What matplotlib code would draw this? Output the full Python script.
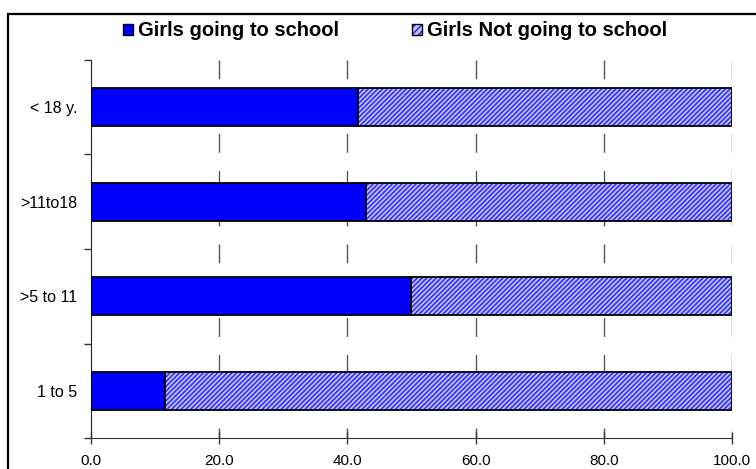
import matplotlib
matplotlib.use("Agg")
import matplotlib.pyplot as plt
from matplotlib.patches import Patch, Rectangle
from matplotlib.legend_handler import HandlerTuple

# Share of girls attending school, by age group (percent)
age_groups = ["1 to 5", ">5 to 11", ">11to18", "< 18 y."]
going = [11.6, 49.9, 42.9, 41.6]
not_going = [88.4, 50.1, 57.1, 58.4]
x_ticks = [0, 20, 40, 60, 80, 100]
series_names = ["Girls going to school", "Girls Not going to school"]

plt.rcParams["font.family"] = ["Liberation Sans", "DejaVu Sans"]
plt.rcParams["hatch.linewidth"] = 1.2

W, H, DPI = 756, 469, 100
fig = plt.figure(figsize=(W / DPI, H / DPI), dpi=DPI)
fig.patch.set_facecolor("white")

# plot area in pixel bounds
left, right, top, bottom = 91, 732, 60, 438
ax = fig.add_axes([left / W, 1 - bottom / H, (right - left) / W, (bottom - top) / H])

solid_blue = "#0000ff"
hatch_face = "#c4c4ff"
hatch_line = "#3030ff"
hatch_pattern = "///////"
bar_h = 0.4
ypos = list(range(len(age_groups)))

ax.barh(ypos, going, height=bar_h, color=solid_blue, edgecolor="black",
        linewidth=1.3, zorder=3)
# hatched fill (hatch colour follows edgecolor), then a black outline on top
ax.barh(ypos, not_going, left=going, height=bar_h, facecolor=hatch_face,
        edgecolor=hatch_line, hatch=hatch_pattern, linewidth=0, zorder=3)
ax.barh(ypos, not_going, left=going, height=bar_h, facecolor="none",
        edgecolor="black", linewidth=1.3, zorder=4)

ax.set_xlim(0, 100)
ax.set_ylim(-0.5, len(age_groups) - 0.5)

# dashed vertical gridlines, dashes starting from the top edge
for xv in x_ticks[1:]:
    ax.axvline(xv, ymin=1, ymax=0, color="#555555", linewidth=1.0,
               dashes=(13.5, 13.0), zorder=1)

ax.set_xticks(x_ticks)
ax.set_xticklabels([f"{v:.1f}" for v in x_ticks])
ax.set_yticks(ypos)
ax.set_yticklabels(age_groups)
ax.set_yticks([i - 0.5 for i in range(len(age_groups) + 1)], minor=True)

ax.tick_params(axis="x", direction="inout", length=9, width=1, color="#333333",
               labelsize=11, pad=7)
ax.tick_params(axis="y", which="major", length=0, labelsize=11.5, pad=10)
ax.tick_params(axis="y", which="minor", direction="out", length=5, width=1,
               color="#333333")

for side in ("top", "right"):
    ax.spines[side].set_visible(False)
ax.spines["left"].set_color("#222222")
ax.spines["bottom"].set_color("#333333")
ax.set_facecolor("white")

# legend
h_going = Patch(facecolor=solid_blue, edgecolor="black", linewidth=1.0)
h_hatch = Patch(facecolor=hatch_face, edgecolor=hatch_line, hatch="/////", linewidth=0)
h_outline = Patch(facecolor="none", edgecolor="black", linewidth=1.0)
fig.legend([h_going, (h_hatch, h_outline)], series_names,
           handler_map={tuple: HandlerTuple(ndivide=1, pad=0)},
           loc="center", bbox_to_anchor=(395 / W, 1 - 31 / H), ncol=2,
           frameon=False, prop={"weight": "bold", "size": 14.5},
           handlelength=0.5, handleheight=0.5, handletextpad=0.25,
           columnspacing=3.6, borderaxespad=0)

# outer chart frame
fig.patches.append(Rectangle((8 / W, -0.05), 1.2, 1 - 14 / H + 0.05,
                             transform=fig.transFigure, fill=False,
                             edgecolor="black", linewidth=1.6))

fig.savefig("out.png", dpi=DPI)
